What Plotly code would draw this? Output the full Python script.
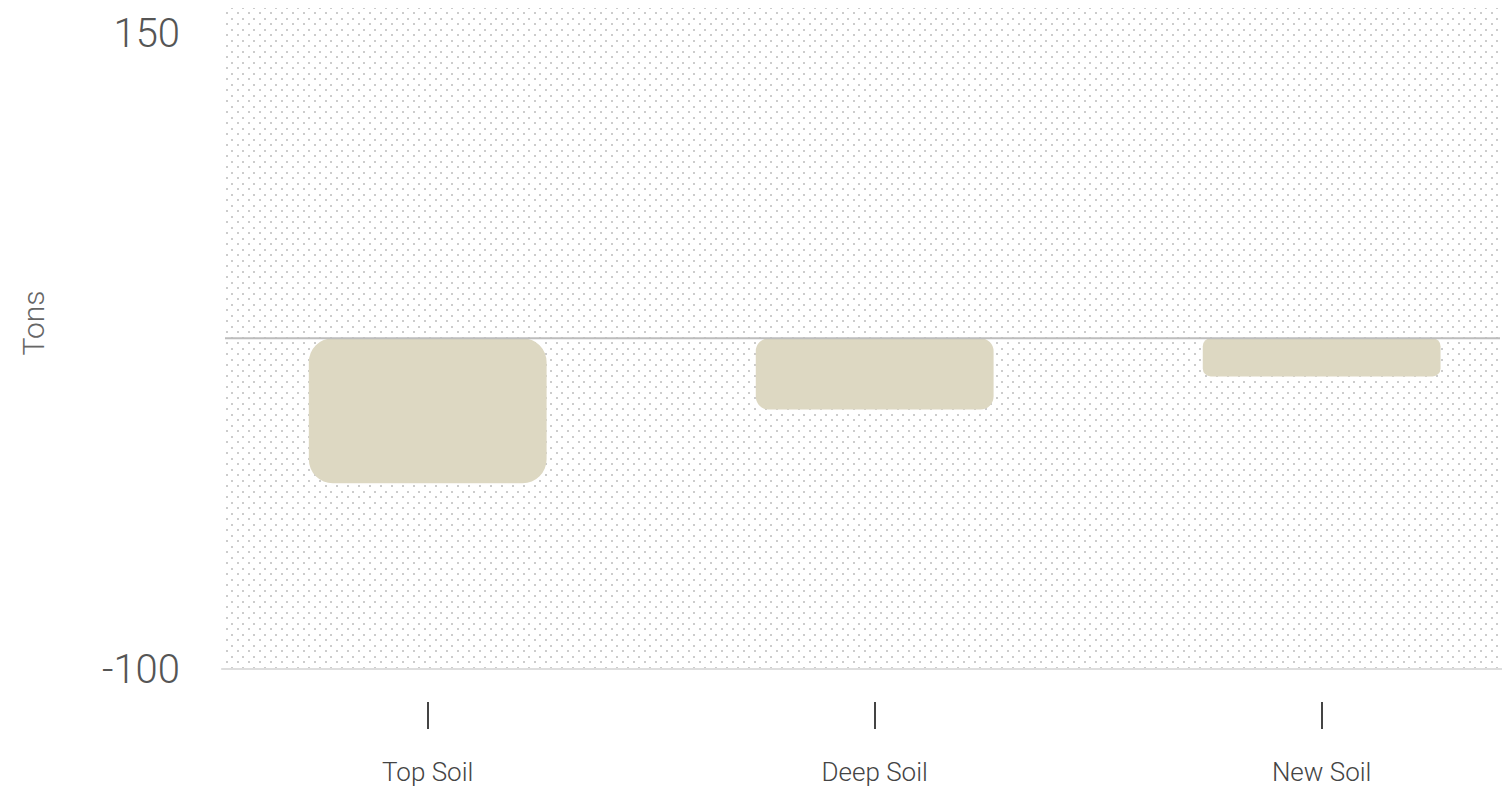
import base64
import plotly.graph_objects as go

# Données
categories = ["Top Soil", "Deep Soil", "New Soil"]
changes = [-57, -28, -15]
baseline = 30
y_ticks = [-100, 150]

# Style
BAR_COLOR = "#ddd8c2"
CORNER_RADII = [24, 13, 8]
FONT = "Roboto, sans-serif"
PAPER_H = 668  # hauteur de la zone papier (px)


def dot_pattern(width, height):
    # fond en pointillés (motif SVG)
    svg = (
        f'<svg xmlns="http://www.w3.org/2000/svg" width="{width}" height="{height}" '
        f'viewBox="0 0 {width} {height}" preserveAspectRatio="none">'
        '<defs><pattern id="p" width="11" height="11" patternUnits="userSpaceOnUse">'
        '<rect x="1" y="0" width="2" height="2" fill="#cccccc"/>'
        '<rect x="6" y="6" width="2" height="2" fill="#cccccc"/>'
        '</pattern></defs>'
        f'<rect width="{width}" height="{height}" fill="url(#p)"/></svg>'
    )
    return "data:image/svg+xml;base64," + base64.b64encode(svg.encode()).decode()


fig = go.Figure()
for cat, val, r in zip(categories, changes, CORNER_RADII):
    fig.add_trace(go.Bar(
        x=[cat], y=[val], base=baseline,
        marker=dict(color=BAR_COLOR, line=dict(width=0), cornerradius=r),
        width=0.532,
        name=cat,
    ))

fig.add_hline(y=baseline, line=dict(color="#bdbdbd", width=2), layer="above")
fig.add_shape(type="line", xref="paper", yref="y domain",
              x0=-0.003, x1=1.002, y0=0, y1=0,
              line=dict(color="#dddddd", width=2))

fig.add_layout_image(dict(
    source=dot_pattern(1280, 667),
    xref="paper", yref="paper",
    x=0, y=700 / PAPER_H, sizex=1280 / 1275, sizey=667 / PAPER_H,
    xanchor="left", yanchor="top", sizing="stretch", layer="below",
))

fig.add_annotation(
    text="Tons", textangle=-90, showarrow=False,
    xref="paper", yref="paper", x=(13 - 225) / 1275, y=(700 - 322) / PAPER_H,
    font=dict(family=FONT, size=30, color="#666666", weight=300),
)

fig.update_layout(
    width=1510, height=789,
    margin=dict(l=217, r=18, t=25, b=96),
    paper_bgcolor="white",
    plot_bgcolor="rgba(0,0,0,0)",
    showlegend=False,
    barmode="overlay",
    font=dict(family=FONT, color="#444444", weight=300),
    xaxis=dict(
        anchor="free", position=0, automargin=False,
        range=[-0.4535, 2.399],
        showgrid=False, zeroline=False, showline=False,
        ticks="outside", ticklen=27, tickwidth=2, tickcolor="#444444",
        ticklabelstandoff=21,
        tickfont=dict(size=26, color="#444444", family=FONT, weight=300),
    ),
    yaxis=dict(
        domain=[32 / PAPER_H, 1], automargin=False,
        range=[-100, 150],
        tickvals=y_ticks,
        ticktext=[str(v) for v in y_ticks],
        ticklabeloverflow="allow",
        showgrid=False, zeroline=False, showline=False,
        ticks="",
        ticklabelstandoff=44,
        tickfont=dict(size=40, color="#555555", family=FONT, weight=300),
    ),
)

fig.write_html("out.html")
